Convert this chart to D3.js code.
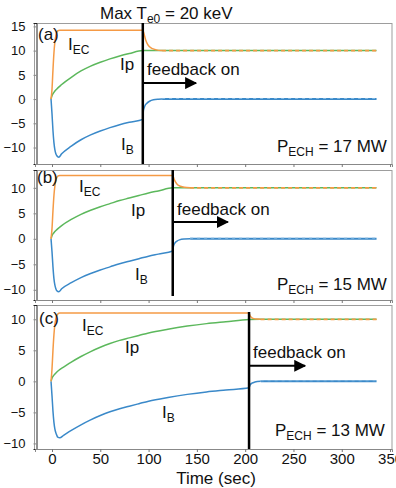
<!DOCTYPE html>
<html>
<head>
<meta charset="utf-8">
<style>
body { margin: 0; background: #fff; }
text { font-family: "Liberation Sans", Arial, sans-serif; fill: #111; }
</style>
</head>
<body>
<svg width="396" height="488"></svg>
<script src="https://d3js.org/d3.v7.min.js"></script>
<script>
// ---- data ----
var tags = ["(a)", "(b)", "(c)"];
var pech = [17, 15, 13];
var tFeedback = [94, 125, 204];
var tArrowEnd = [149, 182, 262];
var arrowVal = [3.3, 3.3, 2.5];
var tSteady = [114, 143, 216];
var tEnd = 336;
var steadyEC = 10, steadyB = 0;
var xTicks = [0, 50, 100, 150, 200, 250, 300, 350];
var yTicksA = [15, 10, 5, 0, -5, -10];
var yTicksBC = [10, 5, 0, -5, -10];

var iecA = [[-1,0],[0,2],[1,6],[2,9.5],[3,11.8],[4,13.1],[5,13.8],[6,14.1],[8,14.2],[94,14.2],[95.5,13.3],[97,12.2],[99,11.3],[101,10.8],[104,10.4],[108,10.15],[114,10]];
var ipA = [[-1,0],[0,0.7],[2,1.4],[5,2.1],[10,3.0],[20,4.5],[30,5.8],[40,6.8],[50,7.6],[60,8.3],[70,8.9],[80,9.4],[94,10],[336,10]];
var ibA = [[-1,0],[0,-3],[1,-6.5],[2,-9],[3,-10.5],[4,-11.3],[5,-11.7],[7,-12],[10,-11.3],[20,-9.7],[30,-8.4],[40,-7.4],[50,-6.6],[60,-5.9],[70,-5.3],[80,-4.8],[94,-4.2],[94.6,-2.4],[96,-1.5],[98,-0.9],[101,-0.45],[105,-0.15],[110,-0.03],[114,0]];

var iecB = [[-1,0],[0,2],[1,5.5],[2,8.5],[3,10.4],[4,11.5],[5,12.0],[6,12.3],[8,12.4],[125,12.4],[126.5,11.7],[128,11.1],[130,10.6],[133,10.3],[137,10.1],[143,10]];
var ipB = [[-1,0],[0,0.6],[2,1.2],[5,1.8],[10,2.6],[20,3.8],[30,4.8],[40,5.6],[50,6.3],[60,6.9],[70,7.5],[80,8.0],[90,8.5],[100,9.0],[110,9.4],[125,10],[336,10]];
var ibB = [[-1,0],[0,-2.5],[1,-5.5],[2,-7.8],[3,-9.1],[4,-9.8],[5,-10.2],[7,-10.4],[10,-9.8],[20,-8.6],[30,-7.6],[40,-6.8],[50,-6.1],[60,-5.5],[70,-4.9],[80,-4.4],[90,-3.9],[100,-3.4],[110,-3.0],[125,-2.4],[125.6,-1.6],[127,-0.9],[129,-0.5],[132,-0.2],[137,-0.05],[143,0]];

var iecC = [[-1,0],[0,2],[1,5],[2,7.5],[3,9.2],[4,10.1],[5,10.6],[6,10.85],[8,11],[204,11],[205,10.6],[206.5,10.3],[209,10.1],[212,10.03],[216,10]];
var ipC = [[-1,0],[0,0.5],[2,1.0],[5,1.5],[9,2.0],[12,2.3],[20,3.1],[30,4.0],[40,4.8],[50,5.5],[60,6.1],[70,6.6],[80,7.0],[90,7.4],[100,7.8],[120,8.4],[140,8.9],[160,9.3],[180,9.6],[204,9.95],[216,10],[336,10]];
var ibC = [[-1,0],[0,-2.3],[1,-4.8],[2,-6.6],[3,-7.7],[4,-8.3],[5,-8.7],[6,-9.0],[8,-9.1],[12,-8.7],[20,-7.9],[30,-7.0],[40,-6.2],[50,-5.5],[60,-4.9],[70,-4.4],[80,-4.0],[90,-3.6],[100,-3.2],[120,-2.6],[140,-2.1],[160,-1.7],[180,-1.4],[204,-1.05],[205,-0.6],[207,-0.3],[210,-0.12],[216,0]];

var iecAll = [iecA, iecB, iecC];
var ipAll = [ipA, ipB, ipC];
var ibAll = [ibA, ibB, ibC];

// ---- layout ----
var orange = "#f59a45", green = "#5cb85c", blue = "#3a89c9";
var boxes = [{top: 23, bottom: 164}, {top: 170, bottom: 300}, {top: 305, bottom: 449}];
var yDomains = [[-13.4, 15.7], [-12, 13.5], [-10.9, 12.3]];
var left = 35, right = 392;

// label spots, pixels
var lab = [
  {tag: [38, 40], ec: [68, 50], ip: [120, 70], b: [121, 150], fb: [147, 75], p: [277, 152]},
  {tag: [37, 183], ec: [79, 192], ip: [131, 216], b: [135, 280], fb: [177, 215], p: [277, 290]},
  {tag: [39, 324], ec: [82, 331], ip: [125, 353], b: [162, 418], fb: [253, 358], p: [275, 436]}
];

var svg = d3.select("svg");
var x = d3.scaleLinear().domain([-17.6, 352]).range([left, right]);

svg.append("text")
  .attr("x", 100).attr("y", 19)
  .style("font-size", "17px")
  .html('Max T<tspan dy="4" style="font-size:12px">e0</tspan><tspan dy="-4"> = 20 keV</tspan>');

svg.append("defs").append("marker")
  .attr("id", "arr").attr("viewBox", "0 0 10 10")
  .attr("refX", 9).attr("refY", 5)
  .attr("markerWidth", 6).attr("markerHeight", 6)
  .attr("orient", "auto")
  .append("path").attr("d", "M0,0L10,5L0,10Z").attr("fill", "#000");

for (var k = 0; k < 3; k++) {
  var bx = boxes[k];
  var y = d3.scaleLinear().domain(yDomains[k]).range([bx.bottom, bx.top]);
  var g = svg.append("g");

  g.append("rect")
    .attr("x", left - 0.5).attr("y", bx.top + 0.5)
    .attr("width", right - left + 0.5).attr("height", bx.bottom - bx.top)
    .attr("fill", "none").attr("stroke", "#9d9d9d").attr("stroke-width", 1);

  var yAx = g.append("g")
    .attr("transform", "translate(" + (left + 1.5) + ",0)")
    .call(d3.axisLeft(y).tickValues(k == 0 ? yTicksA : yTicksBC).tickSize(3).tickPadding(8));
  yAx.select(".domain").attr("stroke", "#222");
  yAx.selectAll(".tick line").attr("stroke", "#888");
  yAx.selectAll(".tick text").style("font-size", "13px").style("font-family", "Liberation Sans, Arial, sans-serif").attr("fill", "#111");

  var xAx = g.append("g")
    .attr("transform", "translate(0," + bx.bottom + ")")
    .call(d3.axisBottom(x).tickValues(xTicks).tickSize(3).tickPadding(1)
      .tickFormat(k == 2 ? d3.format("d") : ""));
  xAx.select(".domain").attr("stroke", "#888");
  xAx.selectAll(".tick line").attr("stroke", "#777");
  xAx.selectAll(".tick text").style("font-size", "15px").style("font-family", "Liberation Sans, Arial, sans-serif").attr("fill", "#111");

  var line = d3.line()
    .x(function(d) { return x(d[0]); })
    .y(function(d) { return y(d[1]); })
    .curve(d3.curveMonotoneX);

  // Ip
  g.append("path").attr("d", line(ipAll[k]))
    .attr("fill", "none").attr("stroke", green).attr("stroke-width", 1.5);
  // I_B transient + steady
  g.append("path").attr("d", line(ibAll[k]))
    .attr("fill", "none").attr("stroke", blue).attr("stroke-width", 1.5);
  var steadyB_pts = [[tSteady[k], steadyB], [tEnd, steadyB]];
  g.append("path").attr("d", line(steadyB_pts))
    .attr("fill", "none").attr("stroke", blue).attr("stroke-width", 2);
  g.append("path").attr("d", line(steadyB_pts))
    .attr("fill", "none").attr("stroke", "#7fb6e0").attr("stroke-width", 1)
    .attr("stroke-dasharray", "3 4").attr("transform", "translate(0,-0.6)");
  // I_EC transient + steady
  g.append("path").attr("d", line(iecAll[k]))
    .attr("fill", "none").attr("stroke", orange).attr("stroke-width", 1.5);
  g.append("path").attr("d", line([[tSteady[k], steadyEC], [tEnd, steadyEC]]))
    .attr("fill", "none").attr("stroke", orange).attr("stroke-width", 1.8)
    .attr("stroke-dasharray", "4 3");

  // feedback marker
  g.append("line")
    .attr("x1", x(tFeedback[k])).attr("x2", x(tFeedback[k]))
    .attr("y1", bx.top + (k == 2 ? 7 : 0)).attr("y2", bx.bottom - (k == 1 ? 4 : 0))
    .attr("stroke", "#000").attr("stroke-width", 2.5);
  g.append("line")
    .attr("x1", x(tFeedback[k])).attr("x2", x(tArrowEnd[k]))
    .attr("y1", y(arrowVal[k])).attr("y2", y(arrowVal[k]))
    .attr("stroke", "#000").attr("stroke-width", 2)
    .attr("marker-end", "url(#arr)");

  var L = lab[k];
  g.append("text").attr("x", L.tag[0]).attr("y", L.tag[1]).style("font-size", "17px").text(tags[k]);
  g.append("text").attr("x", L.ec[0]).attr("y", L.ec[1]).style("font-size", "17px")
    .html('I<tspan dy="4" style="font-size:12px">EC</tspan>');
  g.append("text").attr("x", L.ip[0]).attr("y", L.ip[1]).style("font-size", "17px").text("Ip");
  g.append("text").attr("x", L.b[0]).attr("y", L.b[1]).style("font-size", "17px")
    .html('I<tspan dy="4" style="font-size:12px">B</tspan>');
  g.append("text").attr("x", L.fb[0]).attr("y", L.fb[1]).style("font-size", "17px").text("feedback on");
  g.append("text").attr("x", L.p[0]).attr("y", L.p[1]).style("font-size", "17px")
    .html('P<tspan dy="4" style="font-size:12px">ECH</tspan><tspan dy="-4"> = ' + pech[k] + ' MW</tspan>');
}

svg.append("text")
  .attr("x", 216).attr("y", 484)
  .attr("text-anchor", "middle")
  .style("font-size", "17px")
  .text("Time (sec)");
</script>
</body>
</html>
